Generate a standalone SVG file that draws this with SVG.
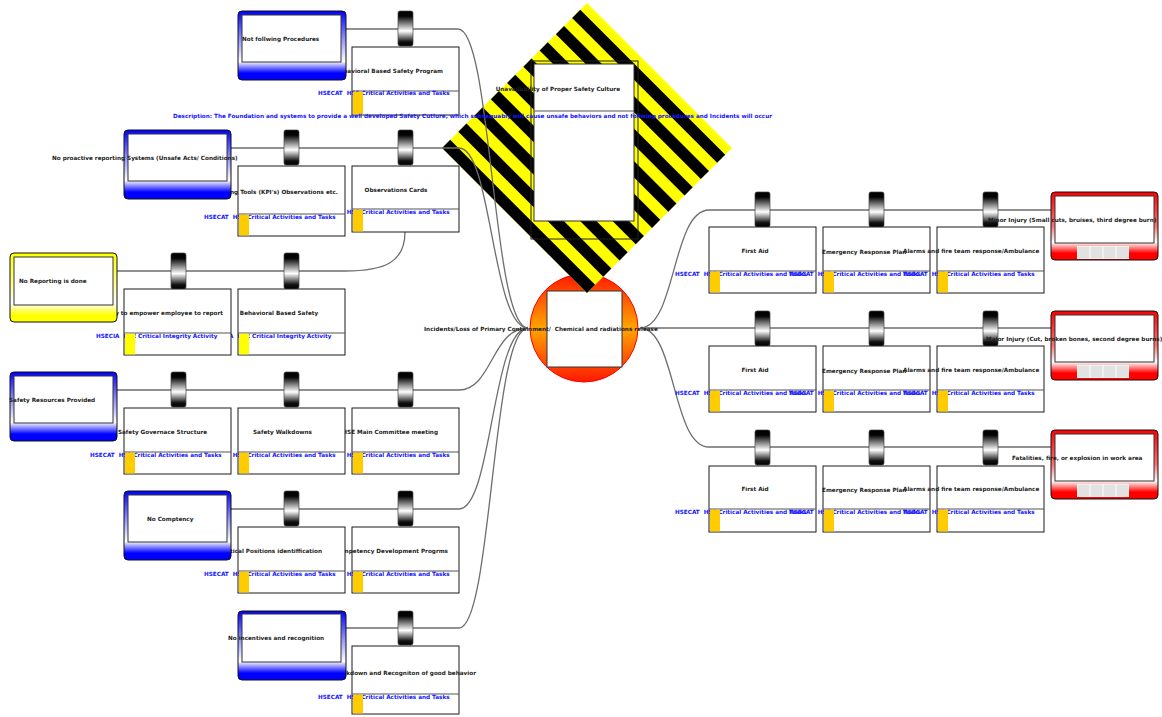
<svg xmlns="http://www.w3.org/2000/svg" width="1162" height="717" viewBox="0 0 1162 717">
<defs>
<linearGradient id="gB" x1="0" y1="0" x2="0" y2="1">
<stop offset="0" stop-color="#0000ff"/><stop offset="0.4" stop-color="#9090ff"/><stop offset="0.73" stop-color="#ffffff"/><stop offset="0.9" stop-color="#0000ff"/><stop offset="1" stop-color="#0000ff"/>
</linearGradient>
<linearGradient id="gY" x1="0" y1="0" x2="0" y2="1">
<stop offset="0" stop-color="#ffff00"/><stop offset="0.45" stop-color="#ffff90"/><stop offset="0.73" stop-color="#ffffff"/><stop offset="0.9" stop-color="#ffff00"/><stop offset="1" stop-color="#ffff00"/>
</linearGradient>
<linearGradient id="gR" x1="0" y1="0" x2="0" y2="1">
<stop offset="0" stop-color="#ff0000"/><stop offset="0.5" stop-color="#ff7070"/><stop offset="0.74" stop-color="#ffffff"/><stop offset="0.9" stop-color="#ff0000"/><stop offset="1" stop-color="#ff0000"/>
</linearGradient>
<linearGradient id="gH" x1="0" y1="0" x2="0" y2="1">
<stop offset="0" stop-color="#000000"/><stop offset="0.15" stop-color="#050505"/><stop offset="0.57" stop-color="#ffffff"/><stop offset="0.88" stop-color="#111111"/><stop offset="1" stop-color="#000000"/>
</linearGradient>
<linearGradient id="gTop" x1="0" y1="0" x2="0" y2="1">
<stop offset="0" stop-color="#ff1a00"/><stop offset="0.5" stop-color="#ffa500"/><stop offset="1" stop-color="#ff1a00"/>
</linearGradient>
<style>
.bx{fill:#fff;stroke:#1a1a1a;stroke-width:1}
.dv{stroke:#555;stroke-width:1.2}
.tb{fill:#ffcc00}
.ty{fill:#ffff00}
.hd{fill:url(#gH);stroke:#444;stroke-width:0.7}
.t{font-family:"DejaVu Sans",Verdana,sans-serif;font-weight:bold;font-size:5.7px;fill:#222}
.b{font-family:"DejaVu Sans",Verdana,sans-serif;font-weight:bold;font-size:5.7px;fill:#1414ff;white-space:pre}
.cn{fill:none;stroke:#6e6e6e;stroke-width:1.3}
.thB{fill:url(#gB);stroke:#111;stroke-width:1}
.thY{fill:url(#gY);stroke:#111;stroke-width:1}
.cq{fill:url(#gR);stroke:#111;stroke-width:1}
.in{fill:#fff;stroke:#333;stroke-width:1}
.cl{fill:#e2e2e2}
.st{fill:#000}
</style>
</defs>
<rect x="0" y="0" width="1162" height="717" fill="#fff"/>

<g id="top-event">
<circle cx="584" cy="328" r="54" fill="url(#gTop)" stroke="#ff0000" stroke-width="1"/>
<rect class="in" x="547" y="291" width="75" height="76" stroke="#444"/>
</g>

<g id="hazard">
<g transform="translate(587,148) rotate(45)">
<rect x="-102.5" y="-102.5" width="205" height="205" fill="#ffff00"/>
<rect class="st" x="-102.5" y="91" width="205" height="11.5"/>
<rect class="st" x="-102.5" y="68" width="205" height="11.5"/>
<rect class="st" x="-102.5" y="45" width="205" height="11.5"/>
<rect class="st" x="-102.5" y="22" width="205" height="11.5"/>
<rect class="st" x="-102.5" y="-1" width="205" height="11.5"/>
<rect class="st" x="-102.5" y="-24" width="205" height="11.5"/>
<rect class="st" x="-102.5" y="-47" width="205" height="11.5"/>
<rect class="st" x="-102.5" y="-70" width="205" height="11.5"/>
<rect class="st" x="-102.5" y="-93" width="205" height="11.5"/>
</g>
<rect x="531" y="61" width="107" height="178" fill="none" stroke="#222" stroke-width="1"/>
<rect class="in" x="534" y="64" width="100" height="157" stroke="#444"/>
<line x1="534" y1="111" x2="634" y2="111" stroke="#555" stroke-width="1.2"/>
<text class="t" x="620" y="91" text-anchor="end">Unavailability of Proper Safety Culture</text>
</g>

<g id="connectors">
<path class="cn" d="M346,29 H458 C492,29 492,328 528,328"/>
<path class="cn" d="M231,148 H459 C492,148 492,328 528,328"/>
<path class="cn" d="M117,271 H345 C385,271 405,262 405,232"/>
<path class="cn" d="M117,390 H459 C492,390 492,328 528,328"/>
<path class="cn" d="M231,509 H459 C492,509 492,328 528,328"/>
<path class="cn" d="M346,628 H459 C492,628 492,328 528,328"/>
<path class="cn" d="M640,328 C676,328 672,210 709,210 H1051"/>
<path class="cn" d="M640,328 H1051"/>
<path class="cn" d="M640,328 C676,328 672,447 709,447 H1051"/>
</g>
<text class="t" x="424" y="331" xml:space="preserve">Incidents/Loss of Primary Containment/  Chemical and radiations release</text>

<!-- Left barriers, row 1 -->
<g id="b-r1c3">
<rect class="hd" x="398" y="11" width="15" height="35" rx="2"/>
<rect class="bx" x="352" y="47" width="107" height="68"/>
<line class="dv" x1="352" y1="91" x2="459" y2="91"/>
<text class="t" x="443" y="73" text-anchor="end">Behavioral Based Safety Program</text>
<text class="b" x="318" y="95" xml:space="preserve">HSECAT  HSE Critical Activities and Tasks</text>
<rect class="tb" x="353" y="91.6" width="10" height="22.8"/>
</g>

<!-- row 2 -->
<g id="b-r2c3">
<rect class="hd" x="398" y="130" width="15" height="35" rx="2"/>
<rect class="bx" x="352" y="166" width="107" height="66"/>
<line class="dv" x1="352" y1="209" x2="459" y2="209"/>
<text class="t" x="396" y="192" text-anchor="middle">Observations Cards</text>
<text class="b" x="318" y="214" xml:space="preserve">HSECAT  HSE Critical Activities and Tasks</text>
<rect class="tb" x="353" y="209.6" width="10" height="21.8"/>
</g>
<g id="b-r2c2">
<rect class="hd" x="284" y="130" width="15" height="35" rx="2"/>
<rect class="bx" x="238" y="166" width="107" height="70"/>
<line class="dv" x1="238" y1="214" x2="345" y2="214"/>
<text class="t" x="338" y="194" text-anchor="end">Monitoring Tools (KPI's) Observations etc.</text>
<text class="b" x="204" y="219" xml:space="preserve">HSECAT  HSE Critical Activities and Tasks</text>
<rect class="tb" x="239" y="214.6" width="10" height="20.8"/>
</g>

<!-- row 3 -->
<g id="b-r3c2">
<rect class="hd" x="284" y="253" width="15" height="36" rx="2"/>
<rect class="bx" x="238" y="289" width="107" height="66"/>
<line class="dv" x1="238" y1="333" x2="345" y2="333"/>
<text class="t" x="279" y="315" text-anchor="middle">Behavioral Based Safety</text>
<text class="b" x="210" y="338" xml:space="preserve">HSECIA  HSE Critical Integrity Activity</text>
<rect class="ty" x="239" y="333.6" width="10" height="20.8"/>
</g>
<g id="b-r3c1">
<rect class="hd" x="171" y="253" width="15" height="36" rx="2"/>
<rect class="bx" x="124" y="289" width="107" height="66"/>
<line class="dv" x1="124" y1="333" x2="231" y2="333"/>
<text class="t" x="223" y="315" text-anchor="end">Policy to empower employee to report</text>
<text class="b" x="96" y="338" xml:space="preserve">HSECIA  HSE Critical Integrity Activity</text>
<rect class="ty" x="125" y="333.6" width="10" height="20.8"/>
</g>

<!-- row 4 -->
<g id="b-r4c3">
<rect class="hd" x="398" y="372" width="15" height="35" rx="2"/>
<rect class="bx" x="352" y="408" width="107" height="66"/>
<line class="dv" x1="352" y1="452" x2="459" y2="452"/>
<text class="t" x="438" y="434" text-anchor="end">HSE Main Committee meeting</text>
<text class="b" x="318" y="457" xml:space="preserve">HSECAT  HSE Critical Activities and Tasks</text>
<rect class="tb" x="353" y="452.6" width="10" height="20.8"/>
</g>
<g id="b-r4c2">
<rect class="hd" x="284" y="372" width="15" height="35" rx="2"/>
<rect class="bx" x="238" y="408" width="107" height="66"/>
<line class="dv" x1="238" y1="452" x2="345" y2="452"/>
<text class="t" x="282.5" y="434" text-anchor="middle">Safety Walkdowns</text>
<text class="b" x="204" y="457" xml:space="preserve">HSECAT  HSE Critical Activities and Tasks</text>
<rect class="tb" x="239" y="452.6" width="10" height="20.8"/>
</g>
<g id="b-r4c1">
<rect class="hd" x="171" y="372" width="15" height="35" rx="2"/>
<rect class="bx" x="124" y="408" width="107" height="66"/>
<line class="dv" x1="124" y1="452" x2="231" y2="452"/>
<text class="t" x="162.5" y="434" text-anchor="middle">Safety Governace Structure</text>
<text class="b" x="90" y="457" xml:space="preserve">HSECAT  HSE Critical Activities and Tasks</text>
<rect class="tb" x="125" y="452.6" width="10" height="20.8"/>
</g>

<!-- row 5 -->
<g id="b-r5c3">
<rect class="hd" x="398" y="491" width="15" height="35" rx="2"/>
<rect class="bx" x="352" y="527" width="107" height="66"/>
<line class="dv" x1="352" y1="571" x2="459" y2="571"/>
<text class="t" x="448" y="553" text-anchor="end">Competency Development Progrms</text>
<text class="b" x="318" y="576" xml:space="preserve">HSECAT  HSE Critical Activities and Tasks</text>
<rect class="tb" x="353" y="571.6" width="10" height="20.8"/>
</g>
<g id="b-r5c2">
<rect class="hd" x="284" y="491" width="15" height="35" rx="2"/>
<rect class="bx" x="238" y="527" width="107" height="66"/>
<line class="dv" x1="238" y1="571" x2="345" y2="571"/>
<text class="t" x="322" y="553" text-anchor="end">Critical Positions identiffication</text>
<text class="b" x="204" y="576" xml:space="preserve">HSECAT  HSE Critical Activities and Tasks</text>
<rect class="tb" x="239" y="571.6" width="10" height="20.8"/>
</g>

<!-- row 6 -->
<g id="b-r6c3">
<rect class="hd" x="398" y="611" width="15" height="34" rx="2"/>
<rect class="bx" x="352" y="646" width="107" height="68"/>
<line class="dv" x1="352" y1="694" x2="459" y2="694"/>
<text class="t" x="476" y="675" text-anchor="end">Walkdown and Recogniton of good behavior</text>
<text class="b" x="318" y="699" xml:space="preserve">HSECAT  HSE Critical Activities and Tasks</text>
<rect class="tb" x="353" y="694.6" width="10" height="18.8"/>
</g>

<!-- Threats -->
<g id="threat-1">
<rect class="thB" x="238" y="11" width="108" height="69" rx="4"/>
<rect class="in" x="242" y="15" width="99" height="47"/>
<text class="t" x="242" y="41">Not follwing Procedures</text>
</g>
<g id="threat-2">
<rect class="thB" x="124" y="130" width="107" height="69" rx="4"/>
<rect class="in" x="128" y="134" width="99" height="47"/>
<text class="t" x="52" y="160">No proactive reporting Systems (Unsafe Acts/ Conditions)</text>
</g>
<g id="threat-3">
<rect class="thY" x="10" y="253" width="107" height="69" rx="4"/>
<rect class="in" x="14" y="257" width="99" height="48"/>
<text class="t" x="19" y="283">No Reporting is done</text>
</g>
<g id="threat-4">
<rect class="thB" x="10" y="372" width="107" height="69" rx="4"/>
<rect class="in" x="14" y="376" width="99" height="47"/>
<text class="t" x="9" y="402">Safety Resources Provided</text>
</g>
<g id="threat-5">
<rect class="thB" x="124" y="491" width="107" height="69" rx="4"/>
<rect class="in" x="128" y="495" width="99" height="47"/>
<text class="t" x="147" y="521">No Comptency</text>
</g>
<g id="threat-6">
<rect class="thB" x="238" y="611" width="108" height="69" rx="4"/>
<rect class="in" x="242" y="614" width="99" height="48"/>
<text class="t" x="228" y="640">No incentives and recognition</text>
</g>

<!-- Right barriers row 1 -->
<g id="rb-r1c1">
<rect class="hd" x="755" y="192" width="15" height="35" rx="2"/>
<rect class="bx" x="709" y="227" width="107" height="66"/>
<line class="dv" x1="709" y1="271" x2="816" y2="271"/>
<text class="t" x="755" y="253" text-anchor="middle">First Aid</text>
<text class="b" x="675" y="276" xml:space="preserve">HSECAT  HSE Critical Activities and Tasks</text>
<rect class="tb" x="710" y="271.6" width="10" height="20.8"/>
</g>
<g id="rb-r1c2">
<rect class="hd" x="869" y="192" width="15" height="35" rx="2"/>
<rect class="bx" x="823" y="227" width="107" height="66"/>
<line class="dv" x1="823" y1="271" x2="930" y2="271"/>
<text class="t" x="822" y="254">Emergency Response Plan</text>
<text class="b" x="789" y="276" xml:space="preserve">HSECAT  HSE Critical Activities and Tasks</text>
<rect class="tb" x="824" y="271.6" width="10" height="20.8"/>
</g>
<g id="rb-r1c3">
<rect class="hd" x="983" y="192" width="15" height="35" rx="2"/>
<rect class="bx" x="937" y="227" width="107" height="66"/>
<line class="dv" x1="937" y1="271" x2="1044" y2="271"/>
<text class="t" x="903" y="253">Alarms and fire team response/Ambulance</text>
<text class="b" x="903" y="276" xml:space="preserve">HSECAT  HSE Critical Activities and Tasks</text>
<rect class="tb" x="938" y="271.6" width="10" height="20.8"/>
</g>

<!-- Right barriers row 2 -->
<g id="rb-r2c1">
<rect class="hd" x="755" y="311" width="15" height="35" rx="2"/>
<rect class="bx" x="709" y="346" width="107" height="66"/>
<line class="dv" x1="709" y1="390" x2="816" y2="390"/>
<text class="t" x="755" y="372" text-anchor="middle">First Aid</text>
<text class="b" x="675" y="395" xml:space="preserve">HSECAT  HSE Critical Activities and Tasks</text>
<rect class="tb" x="710" y="390.6" width="10" height="20.8"/>
</g>
<g id="rb-r2c2">
<rect class="hd" x="869" y="311" width="15" height="35" rx="2"/>
<rect class="bx" x="823" y="346" width="107" height="66"/>
<line class="dv" x1="823" y1="390" x2="930" y2="390"/>
<text class="t" x="822" y="373">Emergency Response Plan</text>
<text class="b" x="789" y="395" xml:space="preserve">HSECAT  HSE Critical Activities and Tasks</text>
<rect class="tb" x="824" y="390.6" width="10" height="20.8"/>
</g>
<g id="rb-r2c3">
<rect class="hd" x="983" y="311" width="15" height="35" rx="2"/>
<rect class="bx" x="937" y="346" width="107" height="66"/>
<line class="dv" x1="937" y1="390" x2="1044" y2="390"/>
<text class="t" x="903" y="372">Alarms and fire team response/Ambulance</text>
<text class="b" x="903" y="395" xml:space="preserve">HSECAT  HSE Critical Activities and Tasks</text>
<rect class="tb" x="938" y="390.6" width="10" height="20.8"/>
</g>

<!-- Right barriers row 3 -->
<g id="rb-r3c1">
<rect class="hd" x="755" y="430" width="15" height="35" rx="2"/>
<rect class="bx" x="709" y="466" width="107" height="66"/>
<line class="dv" x1="709" y1="509" x2="816" y2="509"/>
<text class="t" x="755" y="491" text-anchor="middle">First Aid</text>
<text class="b" x="675" y="514" xml:space="preserve">HSECAT  HSE Critical Activities and Tasks</text>
<rect class="tb" x="710" y="509.6" width="10" height="21.8"/>
</g>
<g id="rb-r3c2">
<rect class="hd" x="869" y="430" width="15" height="35" rx="2"/>
<rect class="bx" x="823" y="466" width="107" height="66"/>
<line class="dv" x1="823" y1="509" x2="930" y2="509"/>
<text class="t" x="822" y="492">Emergency Response Plan</text>
<text class="b" x="789" y="514" xml:space="preserve">HSECAT  HSE Critical Activities and Tasks</text>
<rect class="tb" x="824" y="509.6" width="10" height="21.8"/>
</g>
<g id="rb-r3c3">
<rect class="hd" x="983" y="430" width="15" height="35" rx="2"/>
<rect class="bx" x="937" y="466" width="107" height="66"/>
<line class="dv" x1="937" y1="509" x2="1044" y2="509"/>
<text class="t" x="903" y="491">Alarms and fire team response/Ambulance</text>
<text class="b" x="903" y="514" xml:space="preserve">HSECAT  HSE Critical Activities and Tasks</text>
<rect class="tb" x="938" y="509.6" width="10" height="21.8"/>
</g>

<!-- Consequences -->
<g id="consequence-1">
<rect class="cq" x="1051" y="192" width="107" height="68" rx="4"/>
<rect class="in" x="1055" y="196" width="99" height="47"/>
<rect x="1077" y="246" width="52" height="13" fill="#fff"/>
<rect class="cl" x="1077.5" y="246.5" width="12" height="12"/><rect class="cl" x="1090.5" y="246.5" width="12" height="12"/><rect class="cl" x="1103.5" y="246.5" width="12" height="12"/><rect class="cl" x="1116.5" y="246.5" width="12" height="12"/>
<text class="t" x="988" y="222">Minor Injury (Small cuts, bruises, third degree burn)</text>
</g>
<g id="consequence-2">
<rect class="cq" x="1051" y="311" width="107" height="69" rx="4"/>
<rect class="in" x="1055" y="315" width="99" height="47"/>
<rect x="1077" y="365" width="52" height="13" fill="#fff"/>
<rect class="cl" x="1077.5" y="365.5" width="12" height="12"/><rect class="cl" x="1090.5" y="365.5" width="12" height="12"/><rect class="cl" x="1103.5" y="365.5" width="12" height="12"/><rect class="cl" x="1116.5" y="365.5" width="12" height="12"/>
<text class="t" x="986" y="341">Major Injury (Cut, broken bones, second degree burns)</text>
</g>
<g id="consequence-3">
<rect class="cq" x="1051" y="430" width="107" height="69" rx="4"/>
<rect class="in" x="1055" y="434" width="99" height="47"/>
<rect x="1077" y="484" width="52" height="13" fill="#fff"/>
<rect class="cl" x="1077.5" y="484.5" width="12" height="12"/><rect class="cl" x="1090.5" y="484.5" width="12" height="12"/><rect class="cl" x="1103.5" y="484.5" width="12" height="12"/><rect class="cl" x="1116.5" y="484.5" width="12" height="12"/>
<text class="t" x="1012" y="460">Fatalities, fire, or explosion in work area</text>
</g>

<g id="description">
<text class="b" x="173" y="118">Description: The Foundation and systems to provide a well developed Safety Cutlure, which subsequably will cause unsafe behaviors and not follwing procedures and Incidents will occur</text>
</g>
</svg>
